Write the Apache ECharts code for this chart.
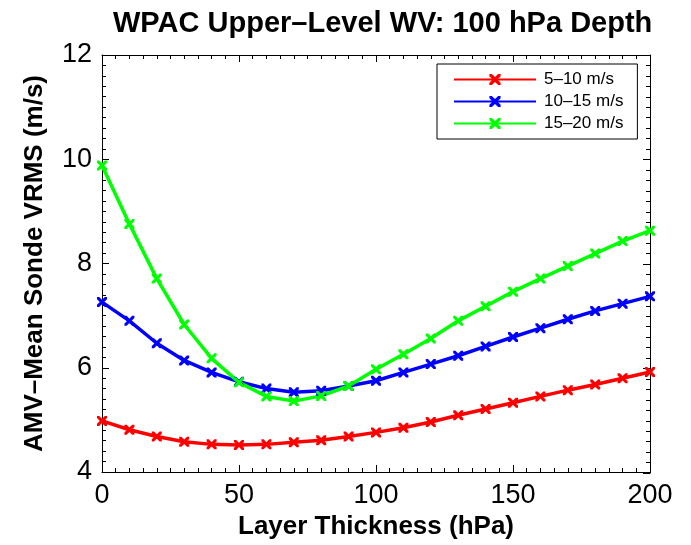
<!DOCTYPE html>
<html>
<head>
<meta charset="utf-8">
<script src="https://cdn.jsdelivr.net/npm/echarts@6/dist/echarts.min.js"></script>
<style>
  html, body { margin: 0; padding: 0; background: #fff; }
  #chart { width: 691px; height: 545px; }
</style>
</head>
<body>
<div id="chart"></div>
<script>
// Layer thickness (hPa)
const thickness = [0, 10, 20, 30, 40, 50, 60, 70, 80, 90, 100, 110, 120, 130, 140, 150, 160, 170, 180, 190, 200];

// AMV minus mean sonde VRMS (m/s) per speed bin
const speed5to10 = [4.98, 4.81, 4.68, 4.58, 4.53, 4.52, 4.53, 4.57, 4.61, 4.68, 4.76, 4.85, 4.96, 5.09, 5.21, 5.33, 5.45, 5.57, 5.68, 5.80, 5.92];
const speed10to15 = [7.26, 6.90, 6.47, 6.14, 5.91, 5.73, 5.60, 5.53, 5.56, 5.65, 5.75, 5.91, 6.07, 6.23, 6.41, 6.59, 6.76, 6.93, 7.09, 7.23, 7.37];
const speed15to20 = [9.88, 8.76, 7.71, 6.83, 6.18, 5.72, 5.45, 5.36, 5.46, 5.65, 5.97, 6.26, 6.56, 6.90, 7.18, 7.46, 7.71, 7.95, 8.19, 8.43, 8.63];

const seriesNames = ['5\u201310 m/s', '10\u201315 m/s', '15\u201320 m/s'];
const seriesColors = ['#ff0000', '#0000ff', '#00ff00'];

const FONT = '"Liberation Sans", Arial, Helvetica, sans-serif';

// cross ("x") marker
const crossPath = 'path://M0,0 L2.2,0 L5,2.8 L7.8,0 L10,0 L10,2.2 L7.2,5 L10,7.8 L10,10 L7.8,10 L5,7.2 L2.2,10 L0,10 L0,7.8 L2.8,5 L0,2.2 Z';

function pairs(ys) {
  return thickness.map((x, i) => [x, ys[i]]);
}

function lineSeries(name, ys, color) {
  return {
    name: name,
    type: 'line',
    xAxisIndex: 0,
    yAxisIndex: 0,
    data: pairs(ys),
    symbol: crossPath,
    symbolSize: 10,
    showAllSymbols: true,
    lineStyle: { color: color, width: 3.5 },
    itemStyle: { color: color },
    emphasis: { disabled: true },
    animation: false
  };
}

const tickStyle = { color: '#000', width: 1 };
const axisLineStyle = { show: true, lineStyle: { color: '#000', width: 1 } };

function xAxisBase() {
  return {
    type: 'value', min: 0, max: 200, interval: 50,
    axisLine: axisLineStyle,
    axisTick: { show: true, inside: true, length: 7, lineStyle: tickStyle },
    minorTick: { show: true, splitNumber: 10, length: 4, lineStyle: tickStyle },
    splitLine: { show: false }
  };
}
function yAxisBase(inside) {
  return {
    type: 'value', min: 4, max: 12, interval: 2,
    axisLine: axisLineStyle,
    axisTick: { show: true, inside: inside, length: 7, lineStyle: tickStyle },
    minorTick: { show: true, splitNumber: 10, length: 4, lineStyle: tickStyle },
    splitLine: { show: false }
  };
}

const chart = echarts.init(document.getElementById('chart'), null, { renderer: 'canvas' });

chart.setOption({
  backgroundColor: '#fff',
  animation: false,
  title: {
    text: 'WPAC Upper\u2013Level WV: 100 hPa Depth',
    left: 108,
    top: 4,
    textStyle: { fontFamily: FONT, fontSize: 29, fontWeight: 'bold', color: '#000' }
  },
  legend: {
    orient: 'vertical',
    left: 437,
    top: 64,
    padding: [7, 14, 7, 16],
    itemGap: 5,
    itemWidth: 82,
    itemHeight: 14,
    borderColor: '#000',
    borderWidth: 1,
    backgroundColor: '#fff',
    textStyle: { fontFamily: FONT, fontSize: 17, color: '#000', padding: [0, 0, 0, 3] },
    data: seriesNames
  },
  grid: [
    // plot area
    { left: 102, right: 41, top: 55, bottom: 72, containLabel: false },
    // thin strip on the right edge that carries the right-hand frame axis
    { left: 650, width: 1, top: 55, bottom: 72, containLabel: false }
  ],
  xAxis: [
    Object.assign(xAxisBase(), {
      gridIndex: 0,
      position: 'bottom',
      name: 'Layer Thickness (hPa)',
      nameLocation: 'middle',
      nameGap: 42,
      nameTextStyle: { fontFamily: FONT, fontSize: 26, fontWeight: 'bold', color: '#000' },
      axisLabel: { fontFamily: FONT, fontSize: 27, color: '#000', margin: 10 }
    }),
    Object.assign(xAxisBase(), {
      gridIndex: 0,
      position: 'top',
      axisLabel: { show: false }
    }),
    { type: 'value', gridIndex: 1, min: 0, max: 1, show: false }
  ],
  yAxis: [
    Object.assign(yAxisBase(true), {
      gridIndex: 0,
      position: 'left',
      name: 'AMV\u2013Mean Sonde VRMS (m/s)',
      nameLocation: 'middle',
      nameGap: 54,
      nameTextStyle: { fontFamily: FONT, fontSize: 26, fontWeight: 'bold', color: '#000' },
      axisLabel: { fontFamily: FONT, fontSize: 27, color: '#000', margin: 10 }
    }),
    // right frame: a left-positioned axis in the strip grid, ticks pointing back into the plot
    Object.assign(yAxisBase(false), {
      gridIndex: 1,
      position: 'left',
      axisLabel: { show: false }
    })
  ],
  series: [
    lineSeries(seriesNames[0], speed5to10, seriesColors[0]),
    lineSeries(seriesNames[1], speed10to15, seriesColors[1]),
    lineSeries(seriesNames[2], speed15to20, seriesColors[2])
  ]
});
</script>
</body>
</html>
